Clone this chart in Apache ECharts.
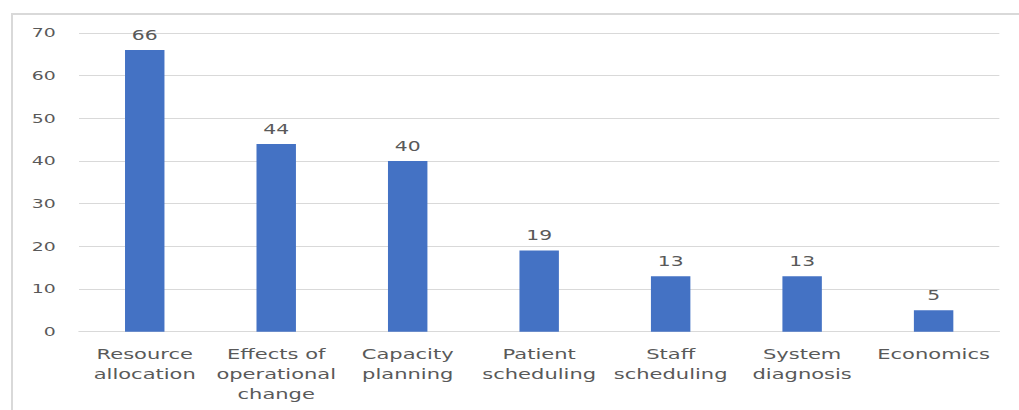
<!DOCTYPE html>
<html>
<head>
<meta charset="utf-8">
<script src="https://cdn.jsdelivr.net/npm/echarts@6/dist/echarts.min.js"></script>
<style>
  html, body { margin: 0; padding: 0; background: #ffffff; overflow: hidden; }
  #frame {
    position: absolute; left: 11px; top: 13px; width: 1010px; height: 400px;
    border-left: 2px solid #d9d9d9; border-top: 2px solid #d9d9d9;
    box-sizing: border-box;
  }
  /* chart laid out narrower, then widened so the lettering reads broad */
  #chart {
    position: absolute; left: 0; top: 0; height: 410px;
    transform-origin: 0 0;
  }
</style>
</head>
<body>
<div id="frame"></div>
<div id="chart"></div>
<script>
const categories = [
  'Resource\nallocation',
  'Effects of\noperational\nchange',
  'Capacity\nplanning',
  'Patient\nscheduling',
  'Staff\nscheduling',
  'System\ndiagnosis',
  'Economics'
];
const counts = [66, 44, 40, 19, 13, 13, 5];
const yTicks = { min: 0, max: 70, interval: 10 };

const PAGE_W = 1019;
const STRETCH = 1.45;
const el = document.getElementById('chart');
el.style.width = (PAGE_W / STRETCH) + 'px';
el.style.transform = 'scaleX(' + STRETCH + ')';

const FONT = 'DejaVu Sans';
const TEXT = '#595959';
const GRID = '#d9d9d9';

const chart = echarts.init(el, null, { renderer: 'svg' });
chart.setOption({
  animation: false,
  backgroundColor: 'transparent',
  grid: {
    left: 79 / STRETCH,
    right: 20 / STRETCH,
    top: 33,
    bottom: 78.3,
    containLabel: false
  },
  xAxis: {
    type: 'category',
    data: categories,
    axisLine: { show: true, lineStyle: { color: GRID, width: 1 } },
    axisTick: { show: false },
    axisLabel: {
      color: TEXT,
      fontFamily: FONT,
      fontSize: 14.5,
      lineHeight: 20,
      margin: 12,
      interval: 0
    }
  },
  yAxis: {
    type: 'value',
    min: yTicks.min,
    max: yTicks.max,
    interval: yTicks.interval,
    axisLine: { show: false },
    axisTick: { show: false },
    splitLine: { lineStyle: { color: GRID, width: 1 } },
    axisLabel: {
      color: TEXT,
      fontFamily: FONT,
      fontSize: 13,
      margin: 16
    }
  },
  series: [{
    type: 'bar',
    data: counts,
    barWidth: '30%',
    itemStyle: { color: '#4472C4' },
    label: {
      show: true,
      position: 'top',
      distance: 8,
      color: TEXT,
      fontFamily: FONT,
      fontSize: 14
    }
  }]
});
</script>
</body>
</html>
